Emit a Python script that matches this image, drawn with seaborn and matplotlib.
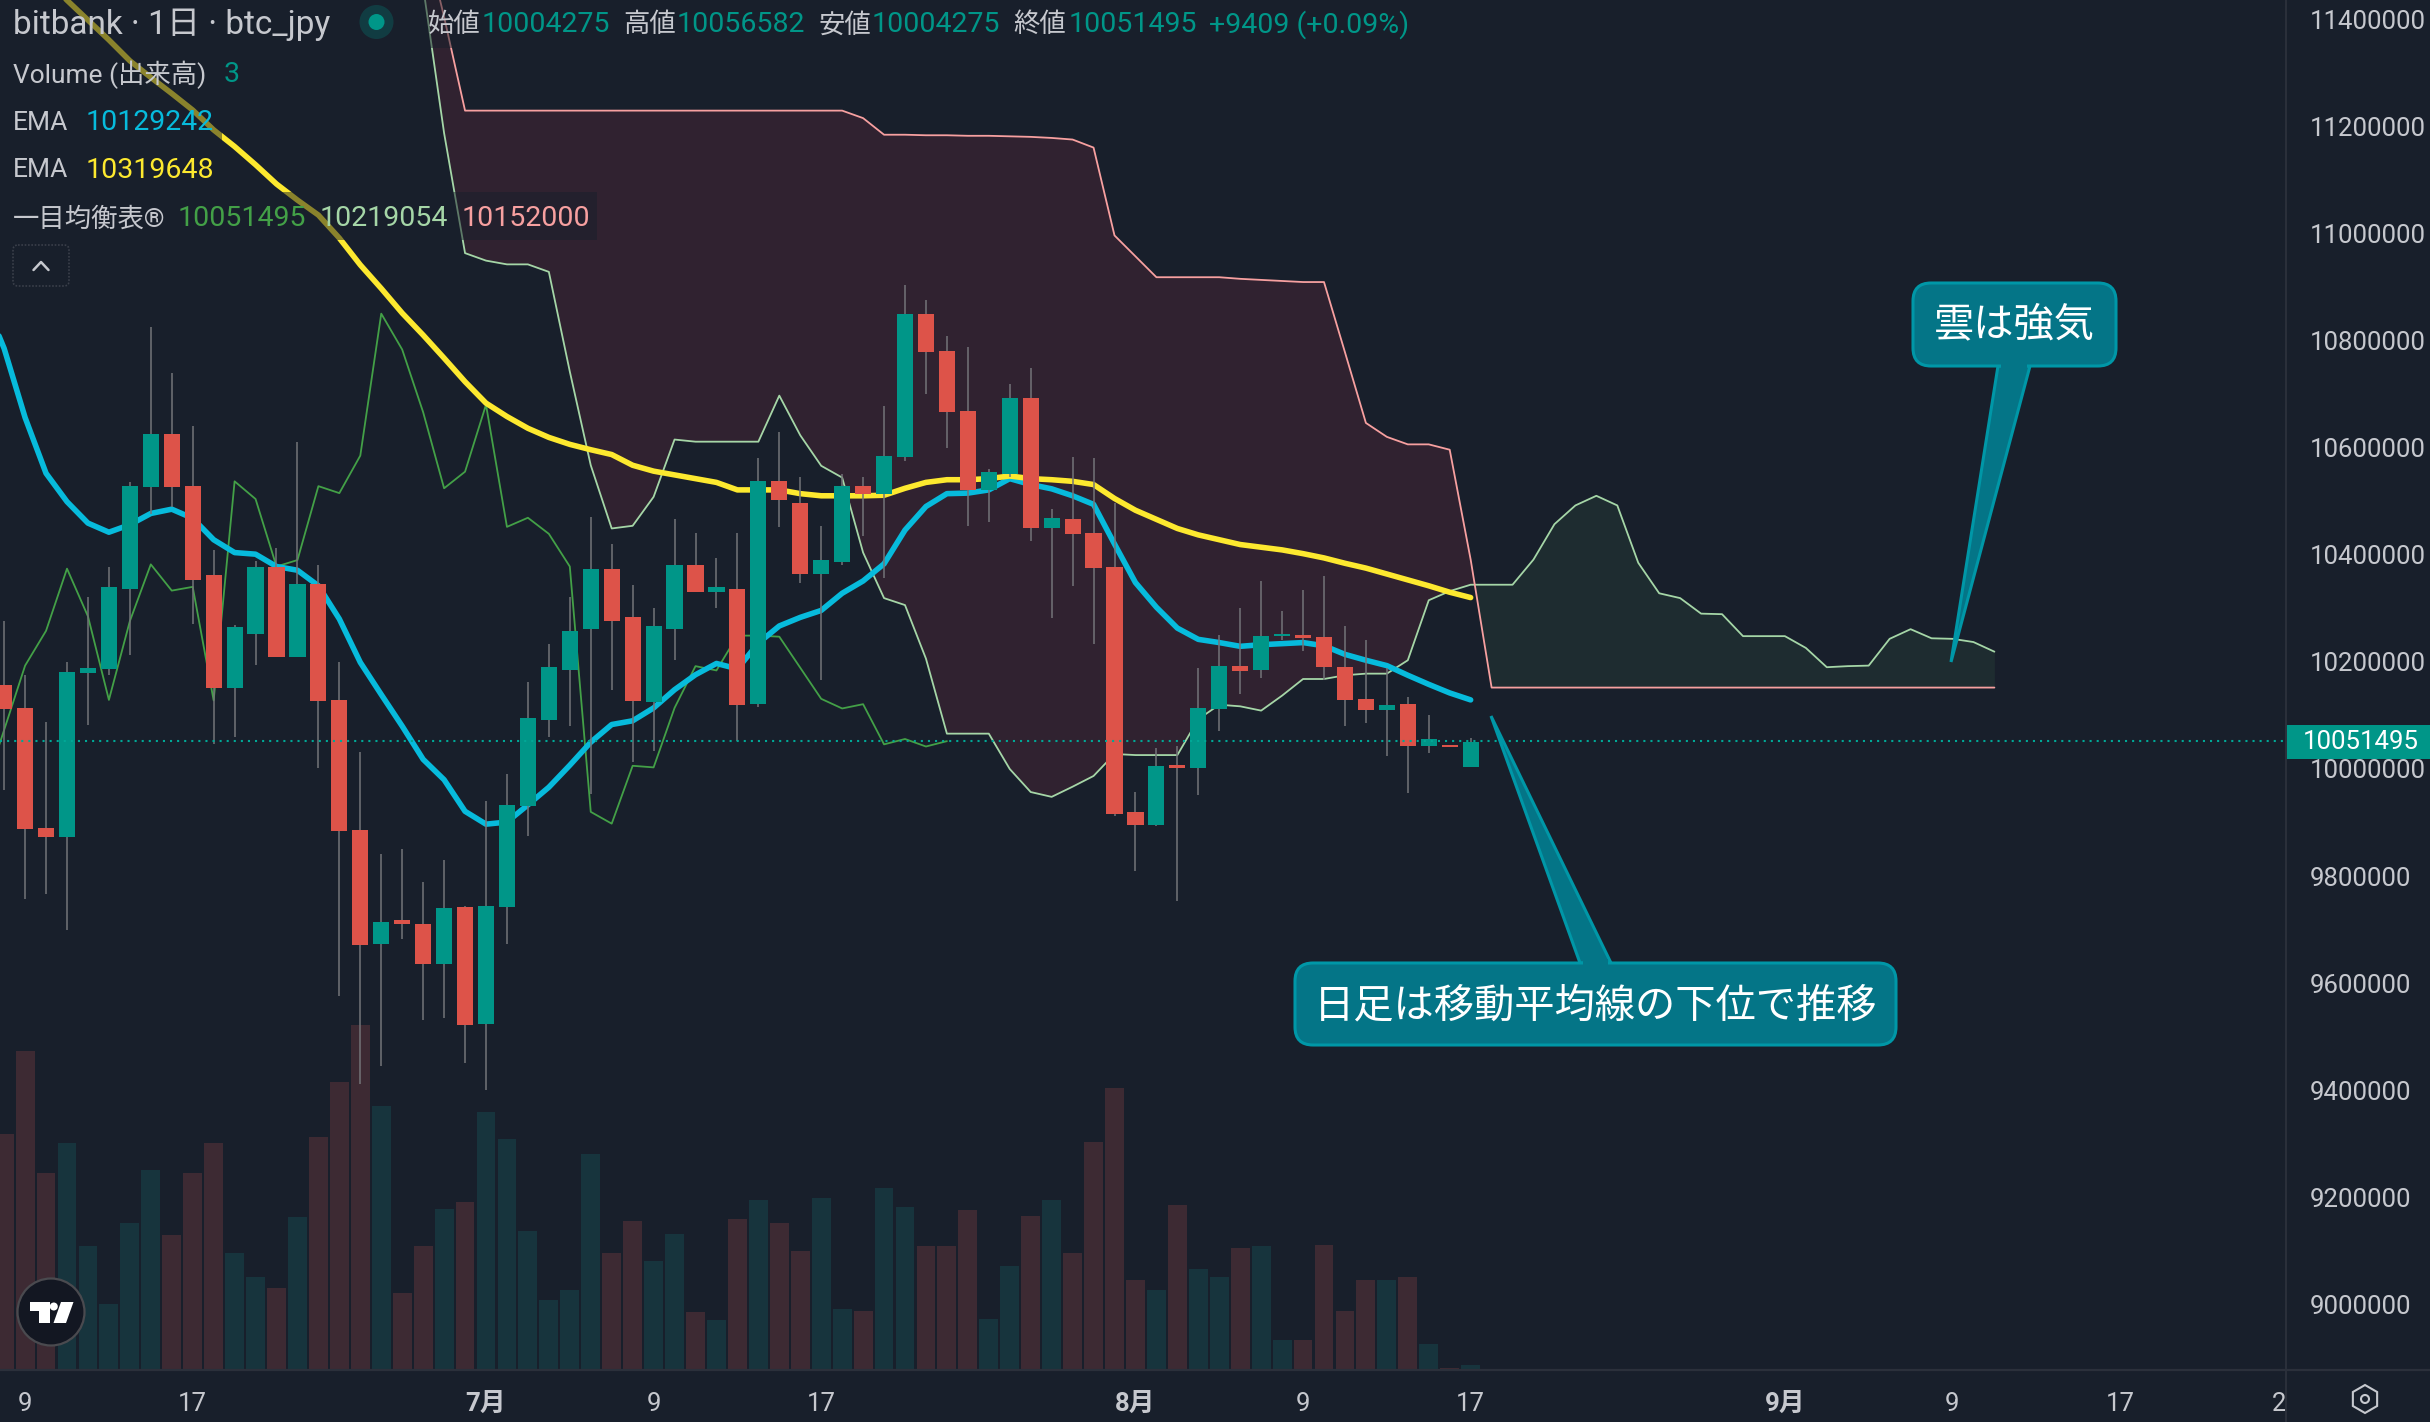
# ---------------------------------------------------
# bitbank btc_jpy daily chart (candles, EMA, ichimoku, volume)
# ---------------------------------------------------

import matplotlib
matplotlib.use("Agg")
import matplotlib.pyplot as plt
import pandas as pd
import seaborn as sns
from matplotlib.lines import Line2D
from matplotlib.patches import Circle, Ellipse, FancyBboxPatch, Polygon, Rectangle, RegularPolygon
from matplotlib.transforms import Affine2D

# Prices are in thousand yen, days are counted from 1 July
candle_days = list(range(-23, 48))
candle_open = [10156, 10114, 9890, 9873, 10179, 10187, 10336, 10526, 10625, 10528, 10362, 10152,
               10252, 10377, 10209, 10345, 10129, 9886, 9674, 9718, 9711, 9636, 9742, 9524,
               9742, 9931, 10092, 10185, 10261, 10374, 10284, 10125, 10261, 10381, 10331, 10336,
               10121, 10538, 10496, 10364, 10386, 10529, 10514, 10582, 10849, 10780, 10669, 10521,
               10551, 10692, 10450, 10466, 10441, 10377, 9920, 9895, 10007, 10002, 10112, 10193,
               10185, 10248, 10250, 10246, 10191, 10131, 10110, 10121, 10043, 10045, 10004]
candle_high = [10277, 10176, 10088, 10199, 10321, 10377, 10536, 10825, 10739, 10640, 10409, 10268,
               10388, 10413, 10611, 10381, 10199, 10032, 9841, 9851, 9789, 9830, 9744, 9940,
               9991, 10162, 10234, 10321, 10471, 10420, 10344, 10301, 10466, 10441, 10394, 10441,
               10581, 10629, 10545, 10454, 10551, 10545, 10678, 10904, 10876, 10809, 10788, 10560,
               10719, 10749, 10485, 10582, 10581, 10496, 9957, 10039, 10043, 10189, 10250, 10301,
               10351, 10295, 10334, 10360, 10267, 10241, 10189, 10134, 10101, 10045, 10057]
candle_low = [9961, 9758, 9766, 9699, 10082, 10176, 10213, 10476, 10490, 10271, 10047, 10059,
              10195, 10209, 10209, 10002, 9576, 9412, 9446, 9683, 9532, 9536, 9452, 9401,
              9674, 9875, 10059, 10080, 9954, 10147, 10013, 10034, 10204, 10331, 10301, 10052,
              10116, 10451, 10347, 10166, 10381, 10435, 10356, 10575, 10700, 10599, 10454, 10461,
              10546, 10426, 10282, 10341, 10234, 9912, 9810, 9894, 9753, 9952, 10071, 10140,
              10170, 10241, 10220, 10166, 10081, 10086, 10024, 9956, 10030, 10041, 10004]
candle_close = [10112, 9888, 9873, 10181, 10189, 10339, 10528, 10625, 10526, 10353, 10152, 10265,
                10377, 10209, 10345, 10127, 9884, 9672, 9715, 9711, 9636, 9740, 9522, 9744,
                9933, 10096, 10191, 10257, 10374, 10276, 10127, 10267, 10381, 10331, 10340, 10119,
                10538, 10502, 10364, 10390, 10529, 10514, 10584, 10849, 10779, 10667, 10521, 10554,
                10692, 10450, 10469, 10439, 10375, 9916, 9895, 10006, 10002, 10114, 10193, 10183,
                10248, 10252, 10244, 10191, 10129, 10110, 10119, 10043, 10056, 10041, 10051]
volume = [132.5, 179.2, 110.5, 127.4, 69.4, 37.3, 82.4, 112.2, 75.6, 110.5, 127.4, 66.0,
          52.5, 45.8, 85.7, 130.8, 161.7, 193.8, 148.2, 43.5, 69.4, 90.2, 94.2, 144.8,
          129.6, 77.9, 39.6, 45.2, 121.2, 65.5, 83.5, 61.0, 76.2, 32.8, 28.3, 84.6,
          95.3, 82.4, 66.6, 96.4, 34.5, 33.4, 102.0, 91.4, 69.4, 69.4, 89.7, 28.9,
          58.7, 86.3, 95.3, 65.5, 128.0, 158.3, 50.8, 45.2, 92.5, 57.0, 52.5, 68.3,
          69.4, 17.1, 17.1, 70.0, 33.4, 50.8, 50.3, 52.0, 14.8, 1.3, 3.0]

ema_fast_days = list(range(-24, 48))
ema_fast = [10880, 10785, 10656, 10552, 10499, 10459, 10442, 10456, 10477, 10485, 10468, 10428,
            10404, 10401, 10378, 10371, 10342, 10280, 10199, 10139, 10080, 10018, 9980, 9921,
            9897, 9901, 9933, 9966, 10007, 10050, 10083, 10090, 10114, 10148, 10176, 10197,
            10187, 10235, 10267, 10283, 10296, 10328, 10351, 10383, 10446, 10490, 10514, 10515,
            10521, 10542, 10531, 10523, 10510, 10494, 10420, 10348, 10302, 10263, 10242, 10236,
            10229, 10232, 10234, 10236, 10230, 10214, 10203, 10193, 10175, 10158, 10142, 10129]

ema_slow_days = list(range(-21, 48))
ema_slow = [11476, 11435, 11398, 11361, 11322, 11291, 11261, 11230, 11193, 11162, 11128, 11092,
            11062, 11034, 10991, 10941, 10897, 10851, 10810, 10767, 10723, 10683, 10658, 10636,
            10619, 10606, 10596, 10587, 10567, 10556, 10549, 10542, 10535, 10521, 10521, 10521,
            10514, 10510, 10510, 10510, 10511, 10524, 10535, 10540, 10540, 10542, 10547, 10542,
            10540, 10537, 10531, 10505, 10483, 10466, 10449, 10437, 10428, 10419, 10414, 10409,
            10402, 10394, 10384, 10375, 10364, 10353, 10342, 10330, 10320]

lagging_days = list(range(-24, 23))
lagging_span = [9954, 10073, 10193, 10258, 10374, 10285, 10129, 10276, 10382, 10333, 10340, 10128,
                10537, 10504, 10378, 10390, 10528, 10515, 10585, 10850, 10783, 10666, 10524, 10555,
                10680, 10452, 10469, 10439, 10378, 9920, 9898, 10006, 10003, 10114, 10192, 10184,
                10249, 10249, 10247, 10189, 10131, 10113, 10121, 10046, 10056, 10042, 10052]

cloud_days = list(range(-3, 73))
span_a = [11460, 11187, 10963, 10949, 10942, 10942, 10928, 10742, 10567, 10449, 10454, 10508,
          10615, 10611, 10611, 10611, 10611, 10697, 10623, 10566, 10544, 10404, 10319, 10306,
          10206, 10066, 10066, 10066, 10000, 9957, 9948, 9967, 9987, 10028, 10026, 10026,
          10026, 10093, 10120, 10117, 10109, 10137, 10168, 10168, 10175, 10178, 10178, 10203,
          10315, 10332, 10344, 10344, 10344, 10391, 10457, 10492, 10510, 10492, 10385, 10328,
          10319, 10290, 10289, 10248, 10248, 10248, 10226, 10190, 10192, 10193, 10243, 10261,
          10244, 10243, 10237, 10219]
span_b = [11565, 11404, 11229, 11229, 11229, 11229, 11229, 11229, 11229, 11229, 11229, 11229,
          11229, 11229, 11229, 11229, 11229, 11229, 11229, 11229, 11229, 11215, 11184, 11184,
          11183, 11183, 11182, 11182, 11181, 11180, 11178, 11175, 11160, 10996, 10957, 10918,
          10918, 10918, 10918, 10915, 10913, 10911, 10909, 10909, 10778, 10646, 10620, 10606,
          10606, 10596, 10391, 10152, 10152, 10152, 10152, 10152, 10152, 10152, 10152, 10152,
          10152, 10152, 10152, 10152, 10152, 10152, 10152, 10152, 10152, 10152, 10152, 10152,
          10152, 10152, 10152, 10152]

price_ticks = [9000, 9200, 9400, 9600, 9800, 10000, 10200, 10400, 10600, 10800, 11000, 11200, 11400]
date_ticks = [-22, -14, 0, 8, 16, 31, 39, 47, 62, 70, 78, 85.6]
date_labels = ["9", "17", "7月", "9", "17", "8月", "9", "17", "9月", "9", "17", "2"]
month_labels = ["7月", "8月", "9月"]
last_price = 10051.495

# Colours
BG = "#181f2b"
UP = "#009688"
DOWN = "#dd5349"
WICK = "#737478"
VOL_UP = "#17343d"
VOL_DOWN = "#3d2a33"
CYAN = "#07bbdc"
YELLOW = "#fde92f"
LAG_GREEN = "#43a047"
SPAN_A = "#a5d6a7"
SPAN_B = "#f7a0a0"
CLOUD_RED = "#302230"
CLOUD_GREEN = "#1e2c30"
CALL_FILL = "#047587"
CALL_EDGE = "#0097a7"
TEXT = "#c6c8ce"
AXIS = "#2b303b"

W, H = 2430, 1422
PLOT_W, PLOT_H = 2286, 1370

sns.set_theme(style="dark", rc={"figure.facecolor": BG, "axes.facecolor": BG})
plt.rcParams["font.family"] = ["Roboto", "Noto Sans CJK JP"]

fig = plt.figure(figsize=(W / 100, H / 100), dpi=100)
rect = [0, 1 - PLOT_H / H, PLOT_W / W, PLOT_H / H]
ax_vol = fig.add_axes(rect)
ax = fig.add_axes(rect)
ax.patch.set_alpha(0)

# Everything outside the data axes is placed in picture pixels
px = Affine2D().scale(1 / W, -1 / H).translate(0, 1) + fig.transFigure

# -----------------------------
# Volume
# -----------------------------
direction = ["up" if c >= o else "down" for o, c in zip(candle_open, candle_close)]
df_vol = pd.DataFrame({"day": candle_days, "volume": volume, "direction": direction})
sns.barplot(data=df_vol, x="day", y="volume", hue="direction", ax=ax_vol, native_scale=True,
            palette={"up": VOL_UP, "down": VOL_DOWN}, dodge=False, width=0.9, saturation=1,
            errorbar=None, legend=False, linewidth=0)
ax_vol.set_xlim(-486 / 20.95, (PLOT_W - 486) / 20.95)
ax_vol.set_ylim(0, PLOT_H / 1.78)
ax_vol.set_axis_off()

# -----------------------------
# Ichimoku cloud
# -----------------------------
ax.fill_between(cloud_days, span_a, span_b, where=[b >= a for a, b in zip(span_a, span_b)],
                interpolate=True, color=CLOUD_RED, linewidth=0, zorder=1)
ax.fill_between(cloud_days, span_a, span_b, where=[a >= b for a, b in zip(span_a, span_b)],
                interpolate=True, color=CLOUD_GREEN, linewidth=0, zorder=1)
ax.plot(cloud_days, span_a, color=SPAN_A, lw=1.3, zorder=2)
ax.plot(cloud_days, span_b, color=SPAN_B, lw=1.3, zorder=2)
sns.lineplot(x=lagging_days, y=lagging_span, color=LAG_GREEN, lw=1.3, ax=ax, zorder=2,
             errorbar=None, sort=False)

# -----------------------------
# EMAs
# -----------------------------
sns.lineplot(x=ema_fast_days, y=ema_fast, color=CYAN, linewidth=4.0, ax=ax, zorder=3, errorbar=None,
             sort=False, solid_capstyle="round", solid_joinstyle="round")
sns.lineplot(x=ema_slow_days, y=ema_slow, color=YELLOW, linewidth=4.0, ax=ax, zorder=3, errorbar=None,
             sort=False, solid_capstyle="round", solid_joinstyle="round")

# -----------------------------
# Candles
# -----------------------------
ax.vlines(candle_days, candle_low, candle_high, color=WICK, lw=1.1, zorder=4)
body_bottom = [min(o, c) for o, c in zip(candle_open, candle_close)]
body_height = [abs(o - c) for o, c in zip(candle_open, candle_close)]
body_color = [UP if d == "up" else DOWN for d in direction]
ax.bar(candle_days, body_height, bottom=body_bottom, width=0.77, color=body_color, linewidth=0, zorder=5)

ax.axhline(last_price, color="#00a896", lw=1.5, ls=(0, (1, 2.4)), zorder=6)

# -----------------------------
# Axes
# -----------------------------
ax.set_xlim(-486 / 20.95, (PLOT_W - 486) / 20.95)
ax.set_ylim(10000 - (PLOT_H - 769) * 1.8667, 10000 + 769 * 1.8667)
ax.set_xlabel("")
ax.set_ylabel("")
ax.grid(False)
ax.yaxis.tick_right()
ax.set_yticks(price_ticks, [f"{v}000" for v in price_ticks])
ax.set_xticks(date_ticks, date_labels)
ax.tick_params(axis="y", length=0, pad=17, labelsize=18.5, labelcolor=TEXT)
ax.tick_params(axis="x", length=0, pad=16, labelsize=18.5, labelcolor=TEXT)
for label in ax.get_xticklabels():
    if label.get_text() in month_labels:
        label.set_fontweight("bold")
for spine in ax.spines.values():
    spine.set_visible(False)

fig.add_artist(Line2D([0, W], [PLOT_H, PLOT_H], color=AXIS, lw=1.6, transform=px))
fig.add_artist(Line2D([PLOT_W, PLOT_W], [0, H], color=AXIS, lw=1.4, transform=px))


def add_text(x, y, s, color=TEXT, size=20.5, ha="left", **kwargs):
    return fig.text(x, y + 2, s, color=color, fontsize=size, ha=ha, va="center", transform=px, **kwargs)


# Last price tag
fig.add_artist(Rectangle((PLOT_W, 725), W - PLOT_W, 34, color=UP, lw=0, transform=px))
add_text(2303, 740, "10051495", color="white", size=18.5)

# -----------------------------
# Legend rows
# -----------------------------
for x, y, w, h in [(0, 0, 1425, 48), (0, 48, 240, 48), (0, 96, 222, 48), (0, 144, 222, 48), (0, 192, 597, 48)]:
    fig.add_artist(Rectangle((x, y), w, h, facecolor=BG, alpha=0.5, lw=0, transform=px))

add_text(13, 23, "bitbank · 1日 · btc_jpy", size=24)
fig.add_artist(Circle((376.5, 22), 17, facecolor=UP, alpha=0.25, lw=0, transform=px))
fig.add_artist(Circle((376.5, 22), 8, facecolor=UP, lw=0, transform=px))
for x, label, x_val, val in [(428, "始値", 482, "10004275"), (623, "高値", 677, "10056582"),
                             (818, "安値", 872, "10004275"), (1013, "終値", 1069, "10051495")]:
    add_text(x, 23, label, size=19)
    add_text(x_val, 23, val, color=UP)
add_text(1209, 23, "+9409 (+0.09%)", color=UP)

add_text(13, 73, "Volume (出来高)", size=19)
add_text(224, 73, "3", color=UP)
add_text(13, 121, "EMA", size=19)
add_text(86, 121, "10129242", color=CYAN)
add_text(13, 168, "EMA", size=19)
add_text(86, 168, "10319648", color=YELLOW)
add_text(13, 217, "一目均衡表®", size=19)
add_text(178, 217, "10051495", color=LAG_GREEN)
add_text(320, 217, "10219054", color=SPAN_A)
add_text(462, 217, "10152000", color=SPAN_B)

# Collapse button
fig.add_artist(FancyBboxPatch((13, 245), 56, 41, boxstyle="round,pad=0,rounding_size=5", facecolor=BG,
                              edgecolor="#3a3f4a", lw=1.2, ls=(0, (1, 1)), transform=px))
fig.add_artist(Line2D([33.5, 41, 48.5], [270, 262, 270], color=TEXT, lw=1.8, transform=px))

# -----------------------------
# Logo and settings icon
# -----------------------------
fig.add_artist(Circle((51, 1312), 33.5, facecolor="#131722", edgecolor="#4a4a4f", lw=1.6, transform=px))
fig.add_artist(Polygon([(30, 1302), (50, 1302), (50, 1323), (39, 1323), (39, 1311), (30, 1311)],
                       facecolor="white", lw=0, transform=px))
fig.add_artist(Circle((53.8, 1306.5), 4, facecolor="white", lw=0, transform=px))
fig.add_artist(Polygon([(61, 1302), (73.5, 1302), (66, 1323), (53.5, 1323)], facecolor="white", lw=0, transform=px))

fig.add_artist(RegularPolygon((2365, 1399), 6, radius=14, fill=False, edgecolor=TEXT, lw=1.5, transform=px))
fig.add_artist(Ellipse((2365, 1399), 8, 8, fill=False, edgecolor=TEXT, lw=1.5, transform=px))


# -----------------------------
# Callouts
# -----------------------------
def callout(x0, y0, x1, y1, tail, text, text_xy):
    fig.add_artist(Polygon(tail, closed=True, facecolor=CALL_FILL, edgecolor=CALL_EDGE, lw=2.2,
                           joinstyle="miter", transform=px))
    fig.add_artist(FancyBboxPatch((x0, y0), x1 - x0, y1 - y0, boxstyle="round,pad=0,rounding_size=18",
                                  facecolor=CALL_FILL, edgecolor=CALL_EDGE, lw=2.2, transform=px))
    # open the border where the tail meets the box
    base_x = [p[0] for p in tail[:2]]
    base_y = tail[0][1]
    fig.add_artist(Rectangle((min(base_x) + 3, base_y - 4), abs(base_x[1] - base_x[0]) - 6, 8,
                             facecolor=CALL_FILL, lw=0, transform=px))
    add_text(text_xy[0], text_xy[1], text, color="white", size=29, ha="center")


callout(1913, 283, 2116, 366, [(1998, 366), (2030, 366), (1951, 662)], "雲は強気", (2014, 323))
callout(1295, 963, 1896, 1045, [(1580, 963), (1611, 963), (1491, 716)], "日足は移動平均線の下位で推移", (1596, 1004))

fig.savefig("out.png", dpi=100, facecolor=BG)
print("saved out.png")
